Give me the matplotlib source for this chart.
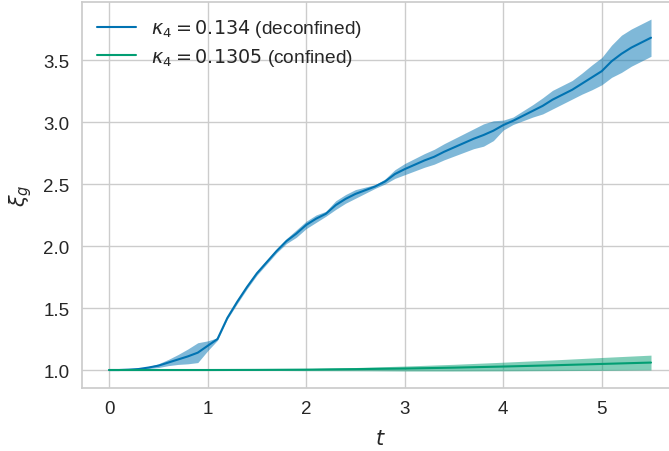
from matplotlib import pyplot as plt
import numpy as np

# deconfined run, kappa_4 = 0.134
t_dec = np.arange(0, 56) * 0.1
xi_dec = [1.000, 1.000, 1.003, 1.008, 1.020, 1.035, 1.060, 1.085, 1.110, 1.140,
          1.195, 1.250, 1.420, 1.550, 1.670, 1.780, 1.870, 1.960, 2.040, 2.100,
          2.170, 2.220, 2.260, 2.330, 2.380, 2.420, 2.450, 2.480, 2.520, 2.580,
          2.620, 2.655, 2.690, 2.720, 2.760, 2.795, 2.830, 2.865, 2.895, 2.930,
          2.975, 3.010, 3.050, 3.090, 3.130, 3.180, 3.220, 3.260, 3.310, 3.360,
          3.410, 3.490, 3.550, 3.600, 3.640, 3.680]
err_dec = [0.000, 0.000, 0.002, 0.004, 0.008, 0.015, 0.025, 0.040, 0.060, 0.080,
           0.040, 0.010, 0.010, 0.015, 0.015, 0.015, 0.015, 0.015, 0.020, 0.030,
           0.030, 0.030, 0.020, 0.035, 0.035, 0.035, 0.025, 0.015, 0.020, 0.035,
           0.045, 0.050, 0.055, 0.060, 0.065, 0.070, 0.075, 0.080, 0.090, 0.080,
           0.040, 0.030, 0.040, 0.050, 0.065, 0.075, 0.075, 0.075, 0.085, 0.100,
           0.110, 0.130, 0.150, 0.150, 0.150, 0.150]

# confined run, kappa_4 = 0.1305
t_con = np.arange(0, 12) * 0.5
xi_con = [1.000, 1.000, 1.000, 1.001, 1.003, 1.007, 1.012, 1.019, 1.028, 1.038, 1.049, 1.060]
err_con = [0.000, 0.001, 0.002, 0.004, 0.008, 0.013, 0.020, 0.027, 0.035, 0.043, 0.052, 0.060]

plt.style.use("seaborn-v0_8-whitegrid")
plt.rcParams["font.family"] = ["Liberation Sans", "DejaVu Sans"]
plt.rcParams["axes.edgecolor"] = "0.8"
plt.rcParams["axes.linewidth"] = 1.25
plt.rcParams["grid.color"] = "0.8"
plt.rcParams["grid.linewidth"] = 1.0

blue = "#0173b2"
green = "#029e73"

fig = plt.figure(figsize=(6.69, 4.52), dpi=100)
ax = fig.add_axes([0.1226, 0.1394, 0.891, 0.854])

xi_dec = np.array(xi_dec)
err_dec = np.array(err_dec)
xi_con = np.array(xi_con)
err_con = np.array(err_con)

ax.plot(t_dec, xi_dec, color=blue, lw=1.5, label=r"$\kappa_4 = 0.134$ (deconfined)")
ax.fill_between(t_dec, xi_dec - err_dec, xi_dec + err_dec, color=blue, alpha=0.5, lw=0)
ax.plot(t_con, xi_con, color=green, lw=1.5, label=r"$\kappa_4 = 0.1305$ (confined)")
ax.fill_between(t_con, xi_con - err_con, xi_con + err_con, color=green, alpha=0.5, lw=0)

ax.set_ylim(0.855, 3.968)
ax.tick_params(labelsize=13.5, length=0, pad=9)
ax.set_xlabel(r"$t$", fontsize=15, labelpad=8)
ax.set_ylabel(r"$\xi_g$", fontsize=15, labelpad=7)
ax.legend(loc="upper left", fontsize=13.8, frameon=False, borderaxespad=0.4,
          labelspacing=0.35)

plt.savefig("out.png", dpi=100)
